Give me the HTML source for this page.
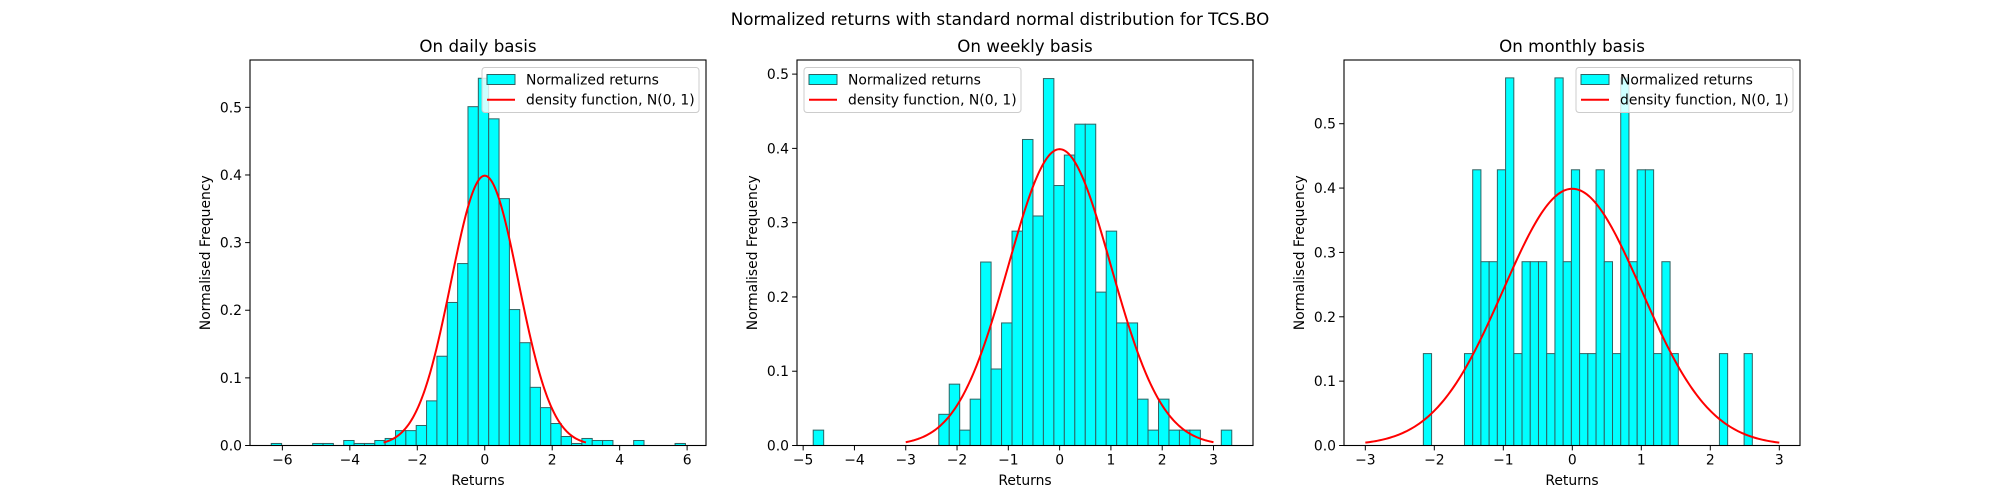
<!DOCTYPE html>
<html><head><meta charset="utf-8"><style>
html,body{margin:0;padding:0;background:#fff;}
svg{display:block;font-family:"DejaVu Sans","Liberation Sans",sans-serif;}
</style></head><body>
<svg id="fig" width="2000" height="500" xmlns="http://www.w3.org/2000/svg">
<rect width="2000" height="500" fill="#fff"/>
<text x="1000" y="25" text-anchor="middle" font-size="16.7">Normalized returns with standard normal distribution for TCS.BO</text>
</svg>
<script>
// daily
const dailyStart = -6.33, dailyWidth = 0.307;
const dailyValues = [0.003,0,0,0,0.003,0.003,0,0.0074,0.003,0.003,0.0074,0.0104,0.022,0.022,0.0296,0.066,0.132,0.2115,0.269,0.501,0.543,0.483,0.365,0.201,0.152,0.086,0.056,0.0325,0.0133,0.003,0.0104,0.0074,0.0074,0,0,0.0074,0,0,0,0.003];
const dailyXTicks = [-6,-4,-2,0,2,4,6];
// weekly
const weeklyStart = -4.804, weeklyWidth = 0.204;
const weeklyValues = [0.0207,0,0,0,0,0,0,0,0,0,0,0,0.042,0.0826,0.0207,0.0624,0.247,0.103,0.165,0.2886,0.412,0.309,0.494,0.350,0.391,0.4326,0.4326,0.2065,0.2886,0.165,0.165,0.0624,0.0207,0.0624,0.0207,0.0207,0.0207,0,0,0.0207];
const weeklyXTicks = [-5,-4,-3,-2,-1,0,1,2,3];
// monthly
const monthlyStart = -2.159, monthlyWidth = 0.1192;
const monthlyValues = [0.1428,0,0,0,0,0.1428,0.4284,0.2856,0.2856,0.4284,0.5712,0.1428,0.2856,0.2856,0.2856,0.1428,0.5712,0.2856,0.4284,0.1428,0.1428,0.4284,0.2856,0.1428,0.5712,0.2856,0.4284,0.4284,0.1428,0.2856,0.1428,0,0,0,0,0,0.1428,0,0,0.1428];
const monthlyXTicks = [-3,-2,-1,0,1,2,3];
const yTicks = [0,0.1,0.2,0.3,0.4,0.5];
const yTickLabels = ["0.0","0.1","0.2","0.3","0.4","0.5"];

const NS="http://www.w3.org/2000/svg";
const svg=document.getElementById('fig');
function mk(tag,attrs,parent){const e=document.createElementNS(NS,tag);for(const k in attrs)e.setAttribute(k,attrs[k]);(parent||svg).appendChild(e);return e;}

const panels=[
 {key:'daily',title:'On daily basis',left:250,xmin:-6.96,xmax:6.56,ymax:0.570,start:dailyStart,w:dailyWidth,vals:dailyValues,ticks:dailyXTicks,legend:'right'},
 {key:'weekly',title:'On weekly basis',left:797,xmin:-5.12,xmax:3.77,ymax:0.519,start:weeklyStart,w:weeklyWidth,vals:weeklyValues,ticks:weeklyXTicks,legend:'left'},
 {key:'monthly',title:'On monthly basis',left:1344,xmin:-3.309,xmax:3.30,ymax:0.599,start:monthlyStart,w:monthlyWidth,vals:monthlyValues,ticks:monthlyXTicks,legend:'right'}
];
const TOP=60,BOT=445.5,W=456;
panels.forEach(p=>{
 const g=mk('g',{});
 
 
 const X=v=>p.left+(v-p.xmin)/(p.xmax-p.xmin)*W;
 const Y=v=>BOT-v/p.ymax*(BOT-TOP);
 p.vals.forEach((v,i)=>{
  if(v<=0)return;
  const x0=X(p.start+i*p.w),x1=X(p.start+(i+1)*p.w);
  const r=mk('rect',{x:x0,y:Y(v),width:x1-x0,height:BOT-Y(v),fill:'#00ffff',stroke:'#2f6363','stroke-width':1},g);
  
  
 });
 let d='';
 for(let i=0;i<=200;i++){const x=-3+6*i/200;const y=Math.exp(-x*x/2)/Math.sqrt(2*Math.PI);d+=(i?'L':'M')+X(x).toFixed(2)+' '+Y(y).toFixed(2);}
 const c=mk('path',{d:d,fill:'none',stroke:'#ff0000','stroke-width':2},g);
 
 
 const fr=mk('rect',{x:p.left,y:TOP,width:W,height:BOT-TOP,fill:'none',stroke:'#000','stroke-width':1.1},g);
 
 
 p.ticks.forEach(t=>{
  const x=X(t);
  mk('line',{x1:x,x2:x,y1:BOT,y2:BOT+4.9,stroke:'#000','stroke-width':1},g);
  const tx=mk('text',{x:x,y:BOT+19,'text-anchor':'middle','font-size':13.9},g);
  tx.textContent=(t<0?'\u2212'+(-t):''+t);
  
  
 });
 yTicks.forEach((t,i)=>{
  const y=Y(t);
  mk('line',{x1:p.left-4.9,x2:p.left,y1:y,y2:y,stroke:'#000','stroke-width':1},g);
  const ty=mk('text',{x:p.left-8,y:y+5,'text-anchor':'end','font-size':13.9},g);
  ty.textContent=yTickLabels[i];
  
  
 });
 const tt=mk('text',{x:p.left+W/2,y:52,'text-anchor':'middle','font-size':16.7},g);
 tt.textContent=p.title;
 
 
 const xl=mk('text',{x:p.left+W/2,y:485,'text-anchor':'middle','font-size':13.9},g);
 xl.textContent='Returns';
 
 
 const cy=(TOP+BOT)/2;
 const yl=mk('text',{x:0,y:0,'text-anchor':'middle','font-size':13.9,transform:'translate('+(p.left-40)+','+cy+') rotate(-90)'},g);
 yl.textContent='Normalised Frequency';
 
 
 const lw=217, lx=p.legend==='right'?p.left+W-7-lw:p.left+7;
 const lg=mk('g',{},g);
 
 
 mk('rect',{x:lx,y:67.5,width:lw,height:45,rx:3,fill:'#fff','fill-opacity':0.8,stroke:'#cccccc','stroke-width':1},lg);
 mk('rect',{x:lx+5,y:74.5,width:28,height:10,fill:'#00ffff',stroke:'#2f6363','stroke-width':1},lg);
 mk('line',{x1:lx+5,x2:lx+33,y1:99.7,y2:99.7,stroke:'#ff0000','stroke-width':2},lg);
 const t1=mk('text',{x:lx+44,y:84.5,'font-size':13.9},lg);t1.textContent='Normalized returns';
 
 
 const t2=mk('text',{x:lx+44,y:104.5,'font-size':13.9},lg);t2.textContent='density function, N(0, 1)';
 
 
});
</script>
</body></html>
